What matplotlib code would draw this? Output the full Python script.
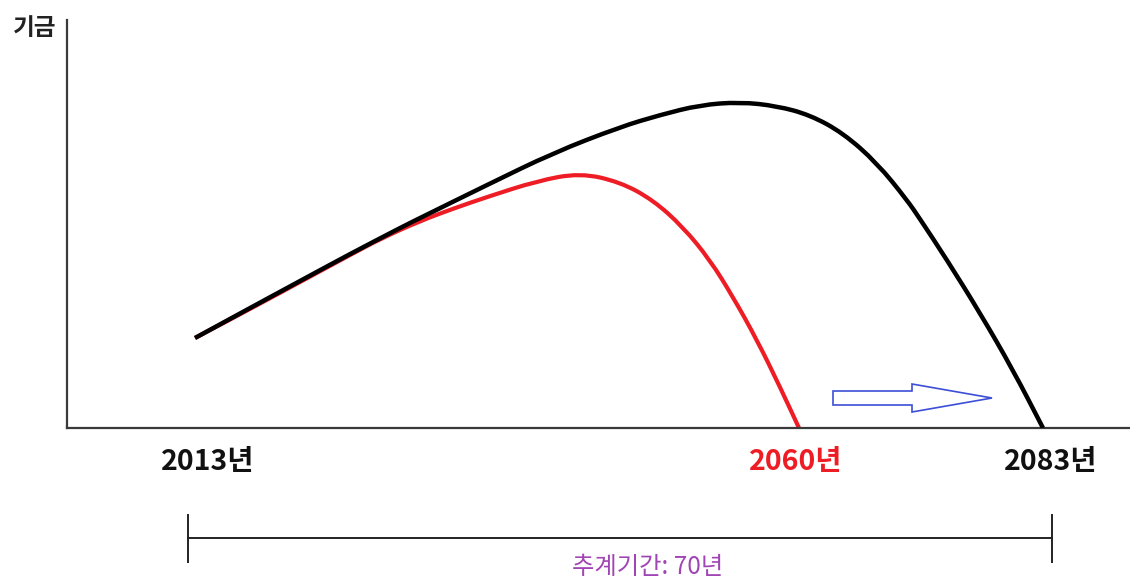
import matplotlib
matplotlib.use("Agg")
import matplotlib.pyplot as plt
from matplotlib.patches import Polygon, PathPatch
from matplotlib.path import Path

plt.rcParams['font.family'] = ['Noto Sans CJK KR', 'DejaVu Sans']

# Schematic horizontal position (px-like units) and fund level
black_x = [195, 250, 300, 350, 400, 420, 487, 553, 620, 660, 700, 740, 777, 810,
           843, 877, 907, 920, 947, 980, 1013, 1043]
black_y = [90, 120, 147, 174, 200, 210, 243, 275, 301, 313, 323, 326, 322, 313,
           295, 265, 228, 209, 168, 115, 58, 0]
red_x = [195, 250, 300, 350, 380, 420, 455, 487, 537, 580, 620, 653, 683, 710, 733,
         757, 780, 799]
red_y = [90, 119, 146, 173, 189, 207, 220, 231, 247, 255, 246, 228, 201, 168, 131,
         88, 41, 0]

year_labels = ["2013년", "2060년", "2083년"]
year_pos = [208, 796, 1051]
year_colors = ["#111111", "#ee1c25", "#111111"]

arrow_x = [833, 912, 912, 992, 912, 912, 833]
arrow_y = [23, 23, 16, 30, 44, 37, 37]

W, H = 1130, 585
fig = plt.figure(figsize=(W / 100, H / 100), dpi=100)
ax = fig.add_axes([67 / W, (H - 428) / H, (W - 67) / W, (428 - 20) / H])
ax.set_xlim(67, 1130)
ax.set_ylim(0, 408)
for s in ['top', 'right']:
    ax.spines[s].set_visible(False)
for s in ['left', 'bottom']:
    ax.spines[s].set_color('#3a3a3a')
    ax.spines[s].set_linewidth(1.6)
ax.set_xticks([])
ax.set_yticks([])


def smooth_path(xs, ys):
    """Quadratic Bezier through segment midpoints, read points as controls."""
    pts = list(zip(xs, ys))
    verts = [pts[0]]
    codes = [Path.MOVETO]
    for i in range(1, len(pts) - 1):
        mid = ((pts[i][0] + pts[i + 1][0]) / 2, (pts[i][1] + pts[i + 1][1]) / 2)
        verts += [pts[i], mid]
        codes += [Path.CURVE3, Path.CURVE3]
    verts.append(pts[-1])
    codes.append(Path.LINETO)
    return Path(verts, codes)


ax.add_patch(PathPatch(smooth_path(red_x, red_y), facecolor='none',
                       edgecolor='#ee1c25', lw=3.0, capstyle='butt', zorder=2))
ax.add_patch(PathPatch(smooth_path(black_x, black_y), facecolor='none',
                       edgecolor='black', lw=3.2, capstyle='butt', zorder=3))

ax.add_patch(Polygon(list(zip(arrow_x, arrow_y)), closed=True, facecolor='white',
                     edgecolor='#3c4fd6', lw=1.2, zorder=4))


def fx(px):
    return px / W


def fy(py):
    return 1 - py / H


fig.text(fx(35), fy(28), "기금", ha='center', va='center', fontsize=17,
         fontweight='bold', color='#222222')

for lab, p, c in zip(year_labels, year_pos, year_colors):
    fig.text(fx(p), fy(462), lab, ha='center', va='center', fontsize=20.5,
             fontweight='bold', color=c)

# Projection-period bracket
fig.add_artist(plt.Line2D([fx(188), fx(1052)], [fy(538), fy(538)], color='#222222', lw=1.4))
fig.add_artist(plt.Line2D([fx(188), fx(188)], [fy(515), fy(562)], color='#222222', lw=1.4))
fig.add_artist(plt.Line2D([fx(1052), fx(1052)], [fy(515), fy(562)], color='#222222', lw=1.4))
fig.text(fx(648), fy(567), "추계기간: 70년", ha='center', va='center', fontsize=17.5,
         color='#a046b4')

fig.savefig("out.png", dpi=100)
